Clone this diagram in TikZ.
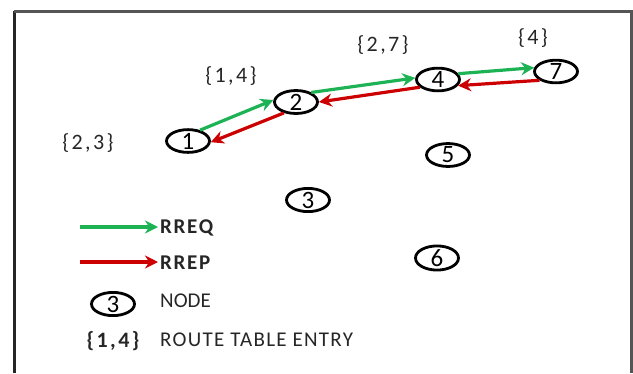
\documentclass[tikz,border=0pt]{standalone}
\usepackage{fontspec}
\setmainfont{Carlito}
\usetikzlibrary{shapes.geometric,arrows.meta}
\definecolor{rgreen}{HTML}{1DB354}
\definecolor{rred}{HTML}{CC0000}
\definecolor{frameL}{HTML}{262626}
\definecolor{frameT}{HTML}{555555}
\begin{document}
\begin{tikzpicture}[x=1pt,y=-1pt,
  nd/.style={ellipse,draw=black,line width=2.8pt,minimum width=43pt,minimum height=22pt,inner sep=0pt,font=\fontsize{25}{25}\selectfont},
  lbl/.style={inner sep=0pt,text=black!85,font=\fontsize{22}{22}\selectfont\addfontfeature{LetterSpace=11}},
  leg/.style={inner sep=0pt,anchor=west,text=black!85,font=\fontsize{21}{21}\selectfont},
  req/.style={draw=rgreen,line width=3.2pt,-{Stealth[length=13pt,width=13pt]}},
  rep/.style={draw=rred,line width=3.2pt,-{Stealth[length=13pt,width=13pt]}}
]
\useasboundingbox (0,0) rectangle (633,373);
% frame
\coordinate (fbl) at (14,373);
\coordinate (ftl) at (14,11);
\coordinate (ftr) at (631,11);
\coordinate (fbr) at (631,373);
\draw[frameL,line width=3pt] (fbl) -- (ftl);
\draw[frameT,line width=3pt] (ftl) -- (ftr) -- (fbr);

% nodes
\node[nd] (n1) at (188,141) {1};
\node[nd] (n2) at (296,102) {2};
\node[nd] (n3) at (308,200) {3};
\node[nd] (n4) at (438,79.5) {4};
\node[nd] (n5) at (448,155) {5};
\node[nd] (n6) at (437,258) {6};
\node[nd] (n7) at (556,71.5) {7};

% route table labels
\node[lbl] (t1) at (88,143) {\{2,3\}};
\node[lbl] (t2) at (231,76) {\{1,4\}};
\node[lbl] (t4) at (383,45) {\{2,7\}};
\node[lbl] (t7) at (533,38) {\{4\}};

% RREQ
\draw[req] (n1.42) -- (n2.175);
\draw[req] (n2.32) -- (n4.176);
\draw[req] (n4.16) -- (n7.170);
% RREP
\draw[rep] (n2.222) -- (n1.357);
\draw[rep] (n4.203) -- (n2.0);
\draw[rep] (n7.208) -- (n4.343);

% legend
\coordinate (lg1a) at (80,227);
\coordinate (lg1b) at (158,227);
\coordinate (lg2a) at (80,262);
\coordinate (lg2b) at (158,262);
\draw[req] (lg1a) -- (lg1b);
\draw[rep] (lg2a) -- (lg2b);
\node[leg,font=\fontsize{21}{21}\selectfont\bfseries\addfontfeature{LetterSpace=8}] (lq) at (160,228) {RREQ};
\node[leg,font=\fontsize{21}{21}\selectfont\bfseries\addfontfeature{LetterSpace=8}] (lp) at (160,263) {RREP};
\node[nd] (ln) at (113,304) {3};
\node[leg] (lnt) at (160,301) {NODE};
\node[lbl,font=\fontsize{22}{22}\selectfont\bfseries\addfontfeature{LetterSpace=11}] (lr) at (113,341) {\{1,4\}};
\node[leg,font=\fontsize{21}{21}\selectfont\addfontfeature{LetterSpace=6}] (lrt) at (160,340) {ROUTE TABLE ENTRY};
\end{tikzpicture}
\end{document}
